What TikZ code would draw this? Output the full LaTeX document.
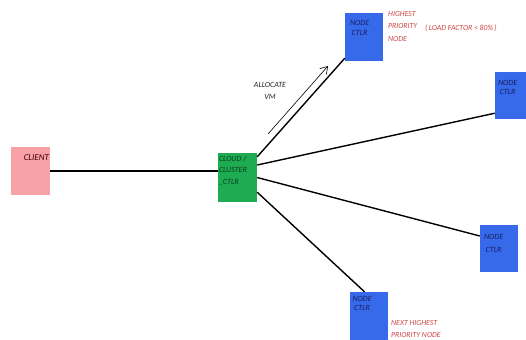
\documentclass[tikz,border=0pt]{standalone}
\usepackage{fontspec}
\setmainfont{Carlito}
\usetikzlibrary{positioning,arrows.meta}
\definecolor{clientpink}{RGB}{248,162,168}
\definecolor{cloudgreen}{RGB}{30,172,82}
\definecolor{ctlrblue}{RGB}{55,105,235}
\definecolor{notered}{RGB}{205,70,72}
\definecolor{ctlrtext}{RGB}{25,32,95}
\definecolor{cloudtext}{RGB}{12,60,30}

\begin{document}
\begin{tikzpicture}[
  x=1bp, y=-1bp,
  box/.style={rectangle, inner sep=0pt, minimum width=38bp, minimum height=48bp},
  ctlr/.style={box, fill=ctlrblue},
  boxtext/.style={font=\fontsize{8}{9}\selectfont\itshape, align=left, inner sep=0pt, text=ctlrtext},
  note/.style={font=\fontsize{7.8}{12.5}\selectfont\itshape, align=left, inner sep=0pt, text=notered},
  link/.style={line width=1.4bp},
  alloc/.style={-{Straight Barb[length=7bp,width=9bp]}, line width=0.6bp}
]
\useasboundingbox (0,0) rectangle (526,339);

% boxes
\node[box, fill=clientpink, minimum width=39bp] (client) at (30.5,171) {};
\node[box, fill=cloudgreen, minimum width=39bp, minimum height=49bp] (cloud) at (237.5,177.5) {};
\node[ctlr] (top) at (364,37) {};
\node[ctlr, minimum width=36bp, minimum height=47bp] (right1) at (513,95.5) {};
\node[ctlr, minimum height=47bp] (right2) at (499,248.5) {};
\node[ctlr, minimum height=53bp] (bottom) at (368.5,318.5) {};

% box texts
\node[boxtext, text=black!75!red, anchor=north east, font=\fontsize{9}{10}\selectfont\itshape] (clienttxt) at ([xshift=-1bp,yshift=-8bp]client.north east) {CLIENT};
\node[boxtext, text=cloudtext, anchor=north west, font=\fontsize{8}{11.5}\selectfont\itshape] (cloudtxt) at ([xshift=1bp,yshift=-3bp]cloud.north west) {CLOUD /\\CLUSTER\\\_CTLR};
\node[boxtext, align=center, anchor=north west, font=\fontsize{8}{10}\selectfont\itshape] (toptxt) at ([xshift=5bp,yshift=-7bp]top.north west) {NODE\\CTLR};
\node[boxtext, align=center, anchor=north west] (right1txt) at ([xshift=3bp,yshift=-8bp]right1.north west) {NODE\\CTLR};
\node[boxtext, align=center, anchor=north west, font=\fontsize{8}{13}\selectfont\itshape] (right2txt) at ([xshift=4bp,yshift=-9bp]right2.north west) {NODE\\CTLR};
\node[boxtext, align=center, anchor=north west] (bottomtxt) at ([xshift=3bp,yshift=-4bp]bottom.north west) {NODE\\CTLR};

% notes
\node[note, anchor=north west] (highest) at (388,11) {HIGHEST\\PRIORITY\\NODE};
\node[note, anchor=west] (load) at (425,28) {(\,LOAD FACTOR < 80\%\,)};
\node[note, anchor=north west] (nexthighest) at (391,320) {NEXT HIGHEST\\PRIORITY NODE};
\node[note, text=black!85, align=center, font=\fontsize{8}{12}\selectfont\itshape] (allocate) at (270,91) {ALLOCATE\\VM};

\coordinate (vmstart) at (268,134);
\coordinate (vmend) at (328,66);

% connectors
\draw[link, line width=1.8bp] (client.east) -- (client.east -| cloud.west);
\draw[link] ([yshift=-4bp]cloud.north east) -- ([yshift=3bp]top.south west);
\draw[link] ([yshift=12.5bp]cloud.east) -- ([yshift=6bp]right1.south west);
\draw[link] (cloud.east) -- ([yshift=12.5bp]right2.west);
\draw[link] ([yshift=10bp]cloud.south east) -- ([xshift=-4bp]bottom.north);
\draw[alloc] (vmstart) -- (vmend);
\end{tikzpicture}
\end{document}
